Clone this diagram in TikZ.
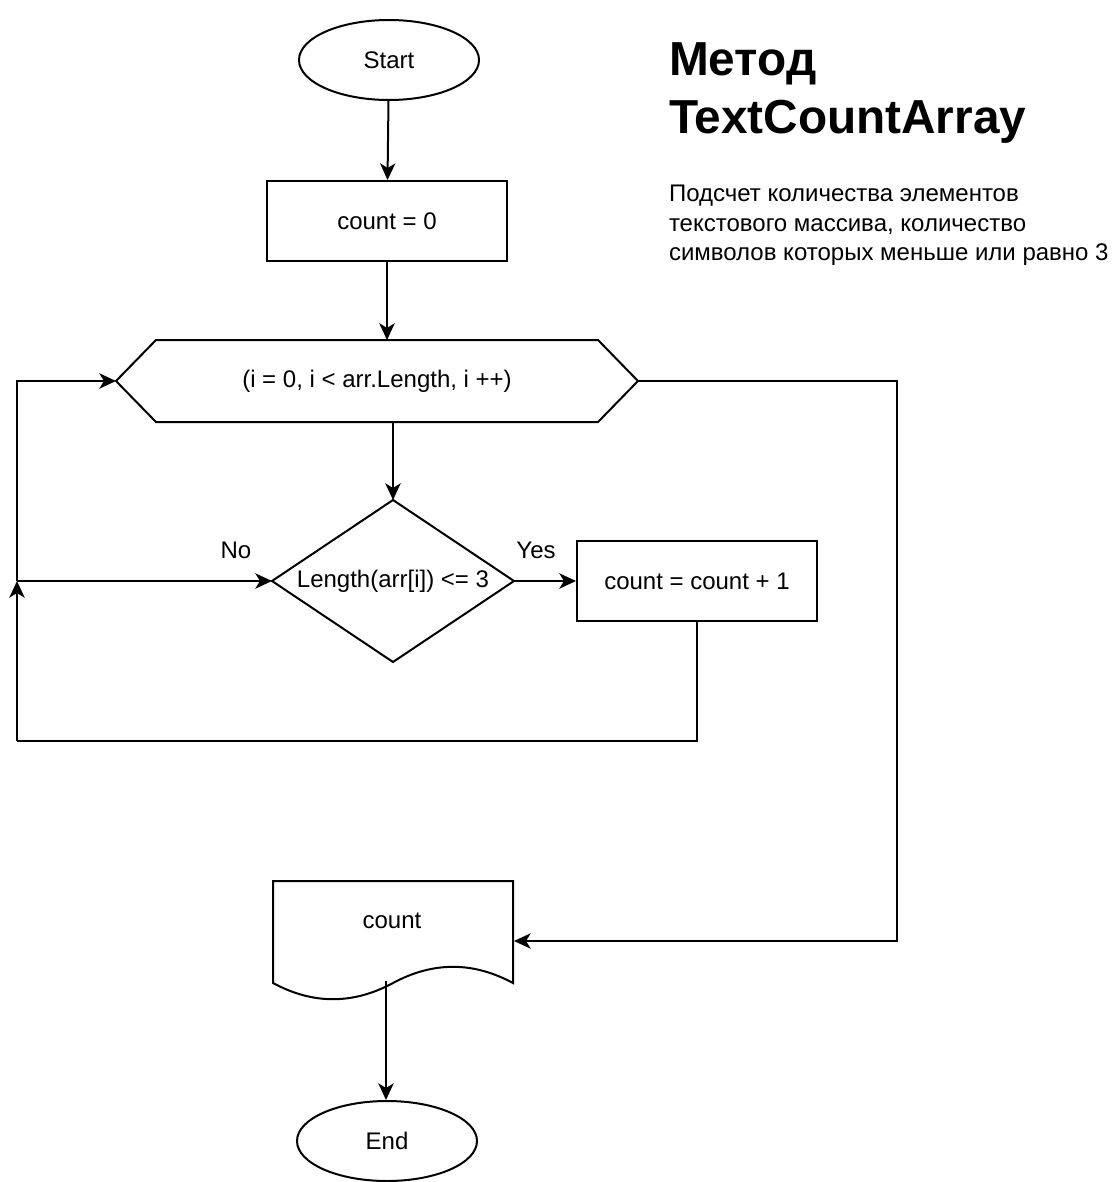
\documentclass[tikz,border=0pt]{standalone}
\usepackage{fontspec}
\setmainfont{Liberation Sans}
\usetikzlibrary{arrows.meta,shapes.geometric}
\begin{document}
\begin{tikzpicture}[x=0.75pt,y=-0.75pt,line width=1.5pt,
  every node/.style={font=\fontsize{18}{22.2}\selectfont},
  term/.style={draw,ellipse,minimum width=135pt,minimum height=60pt,inner sep=0pt},
  proc/.style={draw,rectangle,minimum width=180pt,minimum height=60pt,inner sep=0pt},
  frame/.style={rectangle,minimum width=#1,inner sep=0pt},
  arr/.style={-{Stealth[length=12.5pt,width=11.5pt,inset=3.5pt]}},
  lbl/.style={inner sep=0pt}]
\useasboundingbox (0,0) rectangle (1120,1182);
% nodes
\node[term] (start) at (389,60) {Start};
\node[proc] (c0) at (387,221) {count = 0};
\node[frame=390pt,minimum height=60pt] (hex) at (377,381) {(i = 0, i < arr.Length, i ++)};
\draw (hex.west) -- ([xshift=30pt]hex.north west) -- ([xshift=-30pt]hex.north east) -- (hex.east)
  -- ([xshift=-30pt]hex.south east) -- ([xshift=30pt]hex.south west) -- cycle;
\node[frame=180pt,minimum height=120pt] (dia) at (393,581) {Length(arr[i]) <= 3};
\draw (dia.north) -- (dia.east) -- (dia.south) -- (dia.west) -- cycle;
\node[proc] (inc) at (697,581) {count = count + 1};
\node[frame=180pt,minimum height=90pt] (doc) at (393,941) {};
\draw (273,881) -- (513,881) -- (513,983) .. controls (473,961.4) and (433,961.4) .. (393,983)
  .. controls (353,1004.6) and (313,1004.6) .. (273,983) -- cycle;
\node[lbl] (doctext) at (392,921) {count};
\node[term] (end) at (387,1141) {End};
% title and description
\node[anchor=north west,inner sep=0pt,align=left,font=\bfseries\fontsize{35.8}{43.5}\selectfont] (title) at (668,42) {Метод\\TextCountArray};
\node[anchor=north west,inner sep=0pt,align=left] (desc) at (668,184) {Подсчет количества элементов\\текстового массива, количество\\символов которых меньше или равно 3};
% labels
\node[lbl] (no) at (236,550) {No};
\node[lbl] (yes) at (536,550) {Yes};
% coordinates
\coordinate (lx) at (17,581);
\coordinate (lb) at (17,741);
\coordinate (rx) at (897,381);
\coordinate (docout) at (386,981);
% connectors
\draw[arr] (start) -- (c0);
\draw[arr,line width=2.2pt] (c0.south) -- (c0.south |- hex.north);
\draw[arr] (hex.south -| dia.north) -- (dia.north);
\draw[arr] (dia.east) -- (inc.west);
\draw (inc.south) |- (lb);
\draw[arr] (lb) -- (lx);
\draw[arr] (lx) -- (dia.west);
\draw[arr] (lx) |- (hex.west);
\draw[arr] (hex.east) -- (rx) |- (doc.east);
\draw[arr] (docout) -- (docout |- end.north);
\end{tikzpicture}
\end{document}
